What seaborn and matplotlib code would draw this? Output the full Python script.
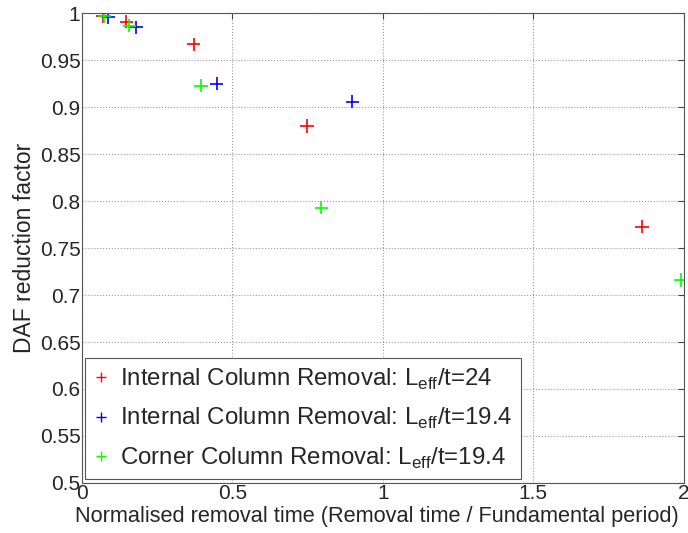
import matplotlib
matplotlib.use('Agg')
import matplotlib.pyplot as plt
import seaborn as sns
import pandas as pd

# --- data ---
labels = [
    r'Internal Column Removal: L$_{\mathrm{eff}}$/t=24',
    r'Internal Column Removal: L$_{\mathrm{eff}}$/t=19.4',
    r'Corner Column Removal: L$_{\mathrm{eff}}$/t=19.4',
]
red_x = [0.070, 0.147, 0.371, 0.748, 1.861]
red_y = [0.997, 0.991, 0.967, 0.880, 0.773]
blue_x = [0.088, 0.180, 0.448, 0.898]
blue_y = [0.996, 0.985, 0.925, 0.906]
green_x = [0.074, 0.157, 0.396, 0.795, 1.990]
green_y = [0.997, 0.987, 0.923, 0.793, 0.716]
colors = ['#ff0000', '#0000ff', '#00ff00']

df = pd.concat([
    pd.DataFrame({'x': red_x, 'y': red_y, 'series': labels[0]}),
    pd.DataFrame({'x': blue_x, 'y': blue_y, 'series': labels[1]}),
    pd.DataFrame({'x': green_x, 'y': green_y, 'series': labels[2]}),
])

sns.set_style('white')
plt.rcParams['font.family'] = ['Liberation Sans', 'DejaVu Sans']
plt.rcParams['mathtext.fontset'] = 'custom'
plt.rcParams['mathtext.rm'] = 'Liberation Sans'

fig = plt.figure(figsize=(6.88, 5.33), dpi=100)
ax = fig.add_axes([0.119, 0.094, 0.875, 0.881])

sns.scatterplot(data=df, x='x', y='y', hue='series', palette=colors,
                marker='+', s=90, linewidth=1.2, ax=ax, legend=False)

ax.set_xlim(0, 2)
ax.set_ylim(0.5, 1)
ax.set_xticks([0, 0.5, 1, 1.5, 2])
ax.set_xticklabels(['0', '0.5', '1', '1.5', '2'])
ax.set_yticks([0.5, 0.55, 0.6, 0.65, 0.7, 0.75, 0.8, 0.85, 0.9, 0.95, 1])
ax.set_yticklabels(['0.5', '0.55', '0.6', '0.65', '0.7', '0.75', '0.8',
                    '0.85', '0.9', '0.95', '1'])
ax.tick_params(direction='in', length=4, labelsize=15, color='#444444',
               top=True, right=True, pad=1)
ax.grid(True, linestyle=':', color='#999999', linewidth=0.8)
for sp in ax.spines.values():
    sp.set_visible(True)
    sp.set_color('#555555')
    sp.set_linewidth(0.8)

ax.set_xlabel('Normalised removal time (Removal time / Fundamental period)',
              fontsize=15.7)
ax.xaxis.set_label_coords(0.49, -0.05, transform=ax.transAxes)
ax.xaxis.label.set_va('top')
ax.set_ylabel('DAF reduction factor', fontsize=16.5, labelpad=3)

handles = [plt.Line2D([], [], linestyle='none', marker='+', color=c,
                      markersize=7, markeredgewidth=1) for c in colors]
leg = ax.legend(handles, labels, loc='lower left', fontsize=17.3,
                frameon=True, fancybox=False, framealpha=1,
                edgecolor='#555555', handlelength=0.6, handletextpad=0.5,
                borderaxespad=0.15, labelspacing=0.6, borderpad=0.35)
leg.get_frame().set_linewidth(0.8)

fig.savefig('out.png', dpi=100)
